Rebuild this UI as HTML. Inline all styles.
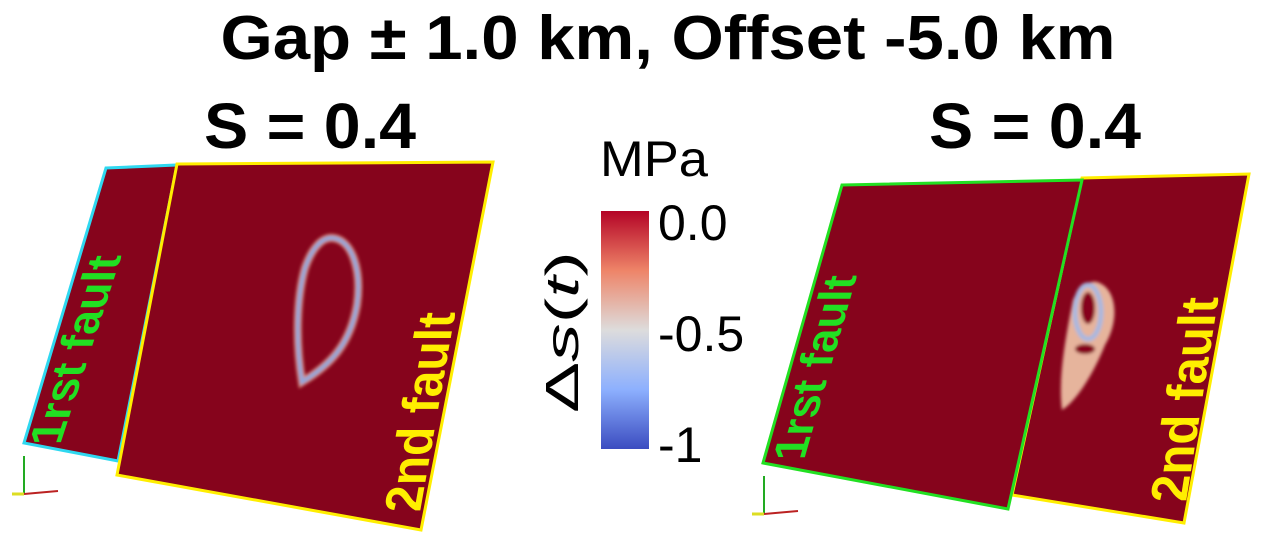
<!DOCTYPE html>
<html><head><meta charset="utf-8"><style>
html,body{margin:0;padding:0;background:#fff;}
svg{display:block;font-family:"Liberation Sans",sans-serif;}
</style></head><body>
<svg width="1274" height="538" viewBox="0 0 1274 538">
<defs>
<linearGradient id="cb" x1="0" y1="0" x2="0" y2="1">
<stop offset="0" stop-color="#b40426"/><stop offset="0.25" stop-color="#ee8468"/><stop offset="0.5" stop-color="#dddcdc"/><stop offset="0.75" stop-color="#8db0fe"/><stop offset="1" stop-color="#3b4cc0"/>
</linearGradient>
<filter id="blur"><feGaussianBlur stdDeviation="1.5"/></filter>
</defs>
<text x="668" y="59" text-anchor="middle" font-size="62" font-weight="bold" textLength="895" lengthAdjust="spacingAndGlyphs">Gap ± 1.0 km, Offset -5.0 km</text>
<text x="310" y="148" text-anchor="middle" font-size="64" font-weight="bold" textLength="212" lengthAdjust="spacingAndGlyphs">S = 0.4</text>
<text x="1035" y="148" text-anchor="middle" font-size="64" font-weight="bold" textLength="212" lengthAdjust="spacingAndGlyphs">S = 0.4</text>

<g>
<polygon points="106,168 177,165 118,461 24,443" fill="#86041c" stroke="#2fd8f0" stroke-width="3"/>
<polygon points="177,164 493,162 421,530 117,475" fill="#86041c" stroke="#ffee00" stroke-width="3"/>
<g filter="url(#blur)">
<path d="M333,238 C352,240 362,270 357,305 C350,345 330,365 302,382 C296,345 296,300 305,268 C312,248 322,237 333,238 Z" fill="none" stroke="#d88a78" stroke-width="8"/>
<path d="M333,238 C352,240 362,270 357,305 C350,345 330,365 302,382 C296,345 296,300 305,268 C312,248 322,237 333,238 Z" fill="none" stroke="#8fa8dd" stroke-width="4"/>
</g>
<text transform="translate(60,445) rotate(-90) skewY(18)" font-size="46" font-weight="bold" fill="#22e022" textLength="190" lengthAdjust="spacingAndGlyphs">1rst fault</text>
<text transform="translate(420,512) rotate(-90) skewY(10)" font-size="52" font-weight="bold" fill="#ffee00" textLength="200" lengthAdjust="spacingAndGlyphs">2nd fault</text>
<g><line x1="24" y1="494" x2="24" y2="456" stroke="#2a2" stroke-width="2"/><line x1="24" y1="494" x2="58" y2="491" stroke="#b22" stroke-width="2"/><line x1="12" y1="494" x2="24" y2="494" stroke="#dd2" stroke-width="3"/></g>
</g>

<g>
<text x="654" y="176" text-anchor="middle" font-size="50" textLength="108" lengthAdjust="spacingAndGlyphs">MPa</text>
<rect x="601" y="211" width="48" height="238" fill="url(#cb)"/>
<text transform="translate(578,332) rotate(-90)" text-anchor="middle" font-size="46" textLength="162" lengthAdjust="spacingAndGlyphs">Δ<tspan font-style="italic">s</tspan>(<tspan font-style="italic">t</tspan>)</text>
<g id="ticks"></g>
</g>

<g>
<polygon points="1082,178 1249,174 1184,523 1012,495" fill="#86041c" stroke="#ffee00" stroke-width="3"/>
<g filter="url(#blur)">
<path d="M1097,282 C1117,288 1120,320 1105,345 C1095,370 1078,400 1062,410 C1058,380 1065,340 1073,300 C1079,287 1090,280 1097,282 Z" fill="#e6b49c"/>
<ellipse cx="1088" cy="312" rx="13" ry="27" fill="none" stroke="#a8b8e0" stroke-width="5"/>
<ellipse cx="1088" cy="308" rx="7" ry="16" fill="#86041c"/>
<ellipse cx="1085" cy="349" rx="10" ry="5" fill="#86041c"/>
</g>
<polygon points="842,185 1082,180 1008,509 763,463" fill="#86041c" stroke="#22e022" stroke-width="3"/>
<text transform="translate(804,460) rotate(-90) skewY(16)" font-size="46" font-weight="bold" fill="#22e022" textLength="185" lengthAdjust="spacingAndGlyphs">1rst fault</text>
<text transform="translate(1186,502) rotate(-90) skewY(9)" font-size="52" font-weight="bold" fill="#ffee00" textLength="205" lengthAdjust="spacingAndGlyphs">2nd fault</text>
<g><line x1="764" y1="514" x2="764" y2="476" stroke="#2a2" stroke-width="2"/><line x1="764" y1="514" x2="798" y2="511" stroke="#b22" stroke-width="2"/><line x1="752" y1="514" x2="764" y2="514" stroke="#dd2" stroke-width="3"/></g>
</g>
</svg>
<script>
const tickValues = [0.0, -0.5, -1];
const tickLabels = ["0.0", "-0.5", "-1"];
const cbMin = -1, cbMax = 0, cbTop = 222, cbBottom = 444;
function yScale(v){ return cbTop + (cbMax - v)/(cbMax - cbMin)*(cbBottom - cbTop); }
const g = document.getElementById('ticks');
tickValues.forEach((v,i)=>{
  const t = document.createElementNS('http://www.w3.org/2000/svg','text');
  t.setAttribute('x', 658);
  t.setAttribute('y', yScale(v) + 18);
  t.setAttribute('font-size', '50');
  t.textContent = tickLabels[i];
  
  
  g.appendChild(t);
});
</script>
</body></html>
